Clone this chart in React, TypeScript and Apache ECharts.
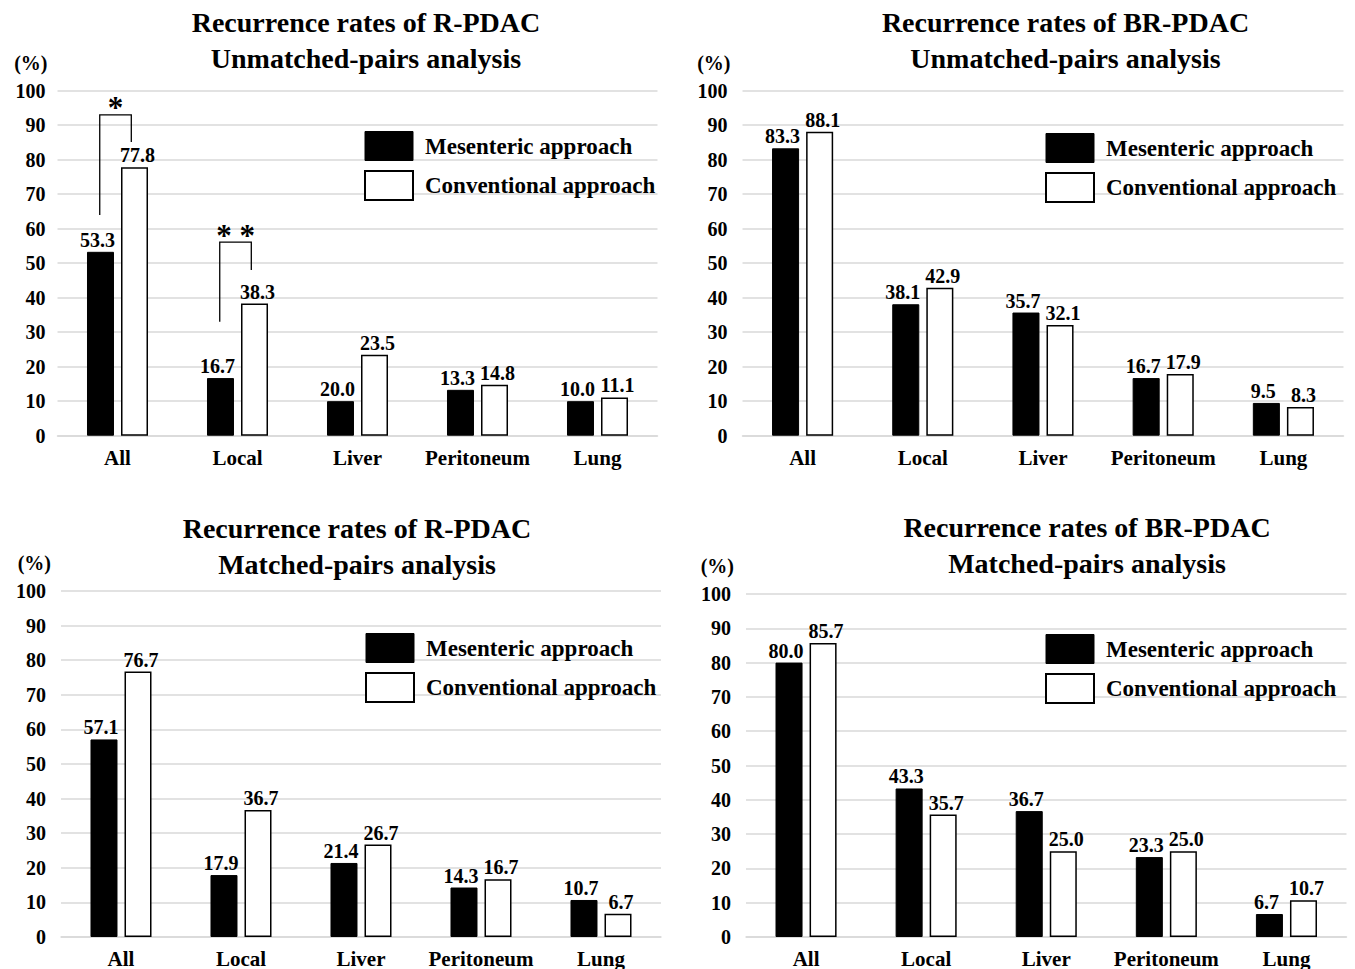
import React, { useEffect, useRef } from "react";
import * as echarts from "echarts";

const FONT = '"Liberation Serif", "Times New Roman", serif';

const categories = ["All", "Local", "Liver", "Peritoneum", "Lung"];
const seriesNames = ["Mesenteric approach", "Conventional approach"];

// Top-left: R-PDAC, unmatched
const rUnmatchedMes = [53.3, 16.7, 10.0, 13.3, 10.0];
const rUnmatchedMesLabels = ["53.3", "16.7", "20.0", "13.3", "10.0"];
const rUnmatchedConv = [77.8, 38.3, 23.5, 14.8, 11.1];

// Top-right: BR-PDAC, unmatched
const brUnmatchedMes = [83.3, 38.1, 35.7, 16.7, 9.5];
const brUnmatchedConv = [88.1, 42.9, 32.1, 17.9, 8.3];

// Bottom-left: R-PDAC, matched
const rMatchedMes = [57.1, 17.9, 21.4, 14.3, 10.7];
const rMatchedConv = [76.7, 36.7, 26.7, 16.7, 6.7];

// Bottom-right: BR-PDAC, matched
const brMatchedMes = [80.0, 43.3, 36.7, 23.3, 6.7];
const brMatchedConv = [85.7, 35.7, 25.0, 25.0, 10.7];

// Significance brackets (top-left): [category, left low, top, right low, mark y]
const sigBrackets = [
  [0, 64.0, 93.0, 85.1, 90.5],
  [1, 33.0, 56.1, 48.0, 53.6],
];
const sigMarks = ["*", "* *"];

const panels = [
  {
    title: "Recurrence rates of R-PDAC\nUnmatched-pairs analysis",
    titleX: 366, titleTop: 4,
    grid: { left: 57.5, top: 90.7, width: 600, height: 345 },
    legend: { left: 364, top: 131 },
    mes: rUnmatchedMes, mesLabels: rUnmatchedMesLabels, conv: rUnmatchedConv,
  },
  {
    title: "Recurrence rates of BR-PDAC\nUnmatched-pairs analysis",
    titleX: 1065.5, titleTop: 4,
    grid: { left: 742.5, top: 90.7, width: 601, height: 345 },
    legend: { left: 1045, top: 133 },
    mes: brUnmatchedMes, mesLabels: null, conv: brUnmatchedConv,
  },
  {
    title: "Recurrence rates of R-PDAC\nMatched-pairs analysis",
    titleX: 357, titleTop: 510,
    grid: { left: 61, top: 591, width: 600, height: 346 },
    legend: { left: 365, top: 633 },
    mes: rMatchedMes, mesLabels: null, conv: rMatchedConv,
  },
  {
    title: "Recurrence rates of BR-PDAC\nMatched-pairs analysis",
    titleX: 1087, titleTop: 509,
    grid: { left: 746, top: 594, width: 600.5, height: 346 },
    legend: { left: 1045, top: 634 },
    mes: brMatchedMes, mesLabels: null, conv: brMatchedConv,
  },
];

export default function App() {
  const ref = useRef<HTMLDivElement>(null);

  useEffect(() => {
    if (!ref.current) return;
    const chart = echarts.init(ref.current, undefined, { renderer: "svg" });

    const labelBase = {
      show: true,
      position: "top",
      distance: 2,
      fontSize: 20,
      fontWeight: "bold",
      fontFamily: FONT,
      color: "#000",
    };

    const series: any[] = [];
    panels.forEach((p, i) => {
      series.push({
        type: "bar",
        name: seriesNames[0],
        xAxisIndex: i,
        yAxisIndex: i,
        barWidth: "22.5%",
        barGap: "26%",
        data: p.mes,
        itemStyle: { color: "#000", borderColor: "#000", borderWidth: 1 },
        label: {
          ...labelBase,
          offset: [-3, 0],
          formatter: (d: any) =>
            p.mesLabels ? p.mesLabels[d.dataIndex] : Number(d.value).toFixed(1),
        },
      });
      series.push({
        type: "bar",
        name: seriesNames[1],
        xAxisIndex: i,
        yAxisIndex: i,
        barWidth: "22.5%",
        barGap: "26%",
        data: p.conv,
        itemStyle: { color: "#fff", borderColor: "#000", borderWidth: 1.5 },
        label: {
          ...labelBase,
          offset: [3, 0],
          formatter: (d: any) => Number(d.value).toFixed(1),
        },
      });
    });

    series.push({
      type: "custom",
      xAxisIndex: 0,
      yAxisIndex: 0,
      z: 5,
      silent: true,
      data: sigBrackets,
      renderItem: (params: any, api: any) => {
        const cat = api.value(0);
        const band = api.size([1, 0])[0];
        const c = api.coord([cat, api.value(1)]);
        const xl = c[0] - band * 0.148;
        const xr = c[0] + band * 0.115;
        const yl = api.coord([cat, api.value(1)])[1];
        const yt = api.coord([cat, api.value(2)])[1];
        const yr = api.coord([cat, api.value(3)])[1];
        const ym = api.coord([cat, api.value(4)])[1];
        return {
          type: "group",
          children: [
            {
              type: "polyline",
              shape: { points: [[xl, yl], [xl, yt], [xr, yt], [xr, yr]] },
              style: { stroke: "#000", lineWidth: 1.3, fill: null },
            },
            {
              type: "text",
              style: {
                text: sigMarks[params.dataIndex],
                x: (xl + xr) / 2,
                y: ym,
                align: "center",
                verticalAlign: "bottom",
                fill: "#000",
                font: `bold 31px ${FONT}`,
              },
            },
          ],
        };
      },
    });

    const option: any = {
      animation: false,
      backgroundColor: "#fff",
      textStyle: { fontFamily: FONT },
      title: panels.map((p) => ({
        text: p.title,
        left: p.titleX,
        top: p.titleTop,
        textAlign: "center",
        padding: 0,
        textStyle: {
          fontSize: 28,
          fontWeight: "bold",
          lineHeight: 36,
          color: "#000",
          fontFamily: FONT,
        },
      })),
      legend: panels.map((p) => ({
        orient: "vertical",
        left: p.legend.left,
        top: p.legend.top,
        padding: 0,
        itemWidth: 48,
        itemHeight: 29,
        itemGap: 9,
        icon: "rect",
        selectedMode: false,
        textStyle: {
          fontSize: 23,
          fontWeight: "bold",
          color: "#000",
          fontFamily: FONT,
          padding: [0, 0, 0, 7],
        },
        data: [
          { name: seriesNames[0], itemStyle: { color: "#000", borderColor: "#000", borderWidth: 1 } },
          { name: seriesNames[1], itemStyle: { color: "#fff", borderColor: "#000", borderWidth: 2 } },
        ],
      })),
      grid: panels.map((p) => ({ ...p.grid, containLabel: false })),
      xAxis: panels.map((p, i) => ({
        type: "category",
        gridIndex: i,
        data: categories,
        axisTick: { show: false },
        axisLine: { show: true, lineStyle: { color: "#d9d9d9", width: 1.5 } },
        axisLabel: {
          fontSize: 21,
          fontWeight: "bold",
          color: "#000",
          fontFamily: FONT,
          margin: i < 2 ? 12 : 11,
          interval: 0,
        },
      })),
      yAxis: panels.map((p, i) => ({
        type: "value",
        gridIndex: i,
        min: 0,
        max: 100,
        interval: 10,
        name: "(%)",
        nameLocation: "end",
        nameGap: 28,
        nameTextStyle: {
          fontSize: 20,
          fontWeight: "bold",
          color: "#000",
          fontFamily: FONT,
          align: "right",
          verticalAlign: "middle",
          padding: [0, i % 2 === 0 ? 10 : 12, 0, 0],
        },
        axisLine: { show: false },
        axisTick: { show: false },
        splitLine: { lineStyle: { color: "#d9d9d9", width: 1.5 } },
        axisLabel: {
          fontSize: 20,
          fontWeight: "bold",
          color: "#000",
          fontFamily: FONT,
          margin: i === 0 ? 12 : 15,
        },
      })),
      series,
    };

    chart.setOption(option);
    return () => chart.dispose();
  }, []);

  return (
    <div
      ref={ref}
      style={{ position: "absolute", left: 0, top: 0, width: 1355, height: 969 }}
    />
  );
}
